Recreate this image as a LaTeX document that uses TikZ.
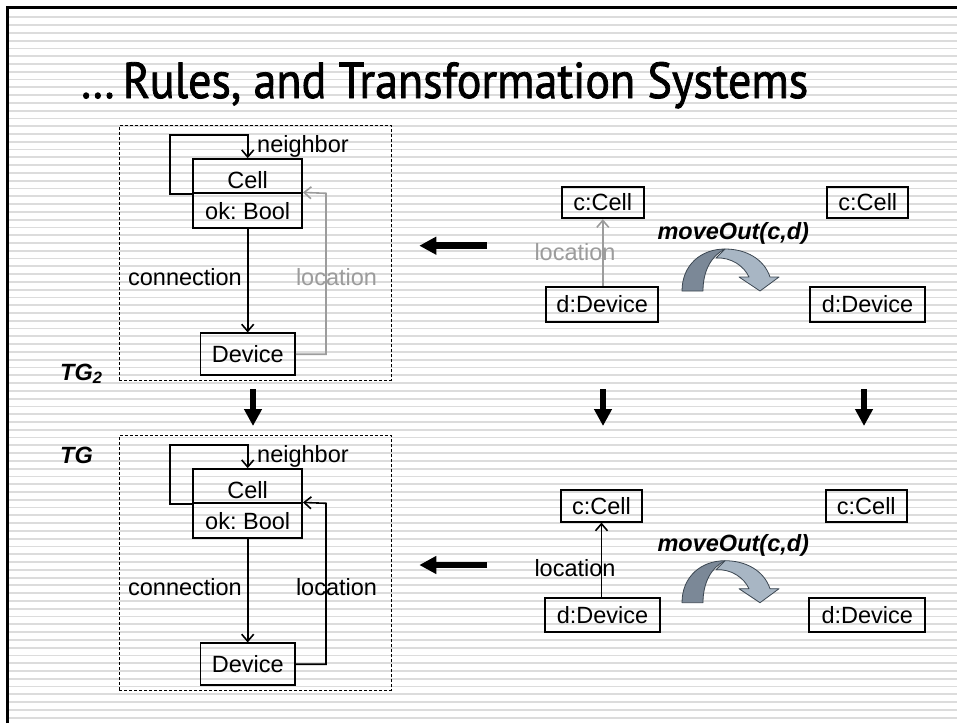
\documentclass[tikz,border=0pt]{standalone}
\usepackage{graphicx}
\usepackage{fontspec}
\setmainfont{Liberation Sans}
\newfontfamily\titlefont[FakeBold=1.6]{PT Sans}
\usetikzlibrary{arrows.meta}
\frenchspacing
\definecolor{stripe}{HTML}{DCDCDC}
\definecolor{lgray}{HTML}{9C9C9C}
\definecolor{arrdark}{HTML}{7B8897}
\definecolor{arrlight}{HTML}{A8B6C4}
\definecolor{arredge}{HTML}{3C4752}
\begin{document}
\begin{tikzpicture}[x=1pt,y=-1pt,
  font=\fontsize{23.5}{26}\selectfont,
  box/.style={draw, line width=1.8pt, inner sep=0pt},
  dashbox/.style={draw, dashed, dash pattern=on 3pt off 2pt, line width=0.9pt, inner sep=0pt},
  arr/.style={line width=1.6pt, -{Straight Barb[length=7pt,width=12pt]}},
  bigarr/.style={line width=6.5pt, -{Triangle[length=17pt,width=17pt]}},
  lbl/.style={inner sep=0pt},
  tglbl/.style={inner sep=0pt, font=\fontsize{23.5}{26}\selectfont\bfseries\itshape},
  stripeline/.style={draw=stripe, line width=1.8pt},
  curvdark/.style={fill=arrdark, draw=arredge, line width=0.8pt, line join=round},
  curvlight/.style={fill=arrlight, draw=arredge, line width=0.8pt, line join=round}]
\useasboundingbox (0,0) rectangle (957,723);
\fill[white] (0,0) rectangle (957,723);
% background stripes
\foreach \i in {0,...,90}{
  \draw[stripeline] (9,{17.3+7.782*\i}) -- (957,{17.3+7.782*\i});
}
% frame
\draw[line width=2.8pt] (7.3,723) -- (7.3,7.8) -- (957,7.8);
% title
\node[anchor=base west, inner sep=0pt] (title) at (80,98)
  {\resizebox{728pt}{36pt}{\titlefont\fontsize{30}{32}\selectfont …\,Rules, and Transformation Systems}};
% left type graphs
\foreach \s/\dy/\lc in {a/0/lgray, b/310/black}{
  \begin{scope}[shift={(0,\dy)}]
    \node[dashbox, minimum width=271.7pt, minimum height=255pt] (frame\s) at (255.15,253.2) {};
    \node[box, minimum width=108.7pt, minimum height=34.3pt, text height=24.8pt] (cellT\s) at (247.7,176.2) {Cell};
    \node[box, minimum width=108.7pt, minimum height=34.7pt] (cellB\s) at (247.7,210.7) {ok: Bool};
    \node[box, minimum width=94.3pt, minimum height=41.7pt] (dev\s) at (247.7,354.2) {Device};
    \coordinate (nb\s) at (170,135);
    \coordinate (loc\s) at (326,193.3);
    \draw[arr] (cellT\s.south west) -| (nb\s) -| (cellT\s.north);
    \node[lbl, anchor=west] (nbl\s) at (257,146.7) {neighbor};
    \draw[arr] (cellB\s.south) -- (dev\s.north);
    \node[lbl, anchor=east] (conl\s) at (242,276.7) {connection};
    \draw[arr, draw=\lc] (dev\s.east) -| (loc\s) -- (cellB\s.north east);
    \node[lbl, text=\lc] (locl\s) at (336.5,276.7) {location};
  \end{scope}
}
\node[tglbl, anchor=base west] (tg2) at (60,380) {TG\textsubscript{2}};
\node[tglbl, anchor=base west] (tg) at (60,463) {TG};
% rule (top)
\node[box, minimum width=82pt, minimum height=31.6pt] (c1) at (602.8,202.5) {c:Cell};
\node[box, minimum width=81pt, minimum height=31.6pt] (c2) at (867.8,202.5) {c:Cell};
\node[box, minimum width=112.3pt, minimum height=35pt] (d1) at (602.2,304.2) {d:Device};
\node[box, minimum width=115pt, minimum height=35pt] (d2) at (867.5,304.2) {d:Device};
\draw[arr, draw=lgray] (d1.north -| c1.south) -- (c1.south);
\node[lbl, text=lgray] (l1) at (575,251.7) {location};
\node[lbl, font=\fontsize{23.5}{26}\selectfont\bfseries\itshape] (m1) at (733.3,233.3) {moveOut(c,d)};
% rule (bottom)
\node[box, minimum width=81pt, minimum height=31.7pt] (c3) at (601.5,505.8) {c:Cell};
\node[box, minimum width=81pt, minimum height=31.7pt] (c4) at (866.3,505.8) {c:Cell};
\node[box, minimum width=115pt, minimum height=33.4pt] (d3) at (602.5,615) {d:Device};
\node[box, minimum width=115.7pt, minimum height=33.4pt] (d4) at (867.2,615) {d:Device};
\draw[arr] (d3.north -| c3.south) -- (c3.south);
\node[lbl] (l3) at (575,568.3) {location};
\node[lbl, font=\fontsize{23.5}{26}\selectfont\bfseries\itshape] (m3) at (733.3,545) {moveOut(c,d)};
% curved arrows
\foreach \dy in {0,311.7}{
  \begin{scope}[shift={(0,\dy)}]
    \path[curvlight] (716,258) .. controls (731,257) and (744,266) .. (749,277)
      -- (739,277) -- (760,291) -- (779,277) -- (770,277)
      .. controls (764,259) and (746,249) .. (725,249) -- cycle;
    \path[curvdark] (682,291) .. controls (682,265) and (701,249) .. (725,249)
      .. controls (711,256) and (703,271) .. (703,291) -- cycle;
  \end{scope}
}
% big arrows
\coordinate (la1s) at (487,245.7); \coordinate (la1e) at (419.3,245.7);
\coordinate (la2s) at (487,565);   \coordinate (la2e) at (419.3,565);
\draw[bigarr] (la1s) -- (la1e);
\draw[bigarr] (la2s) -- (la2e);
\foreach \n/\x in {1/253,2/603,3/864}{
  \coordinate (da\n s) at (\x,389);
  \coordinate (da\n e) at (\x,426);
  \draw[bigarr] (da\n s) -- (da\n e);
}
\end{tikzpicture}
\end{document}
